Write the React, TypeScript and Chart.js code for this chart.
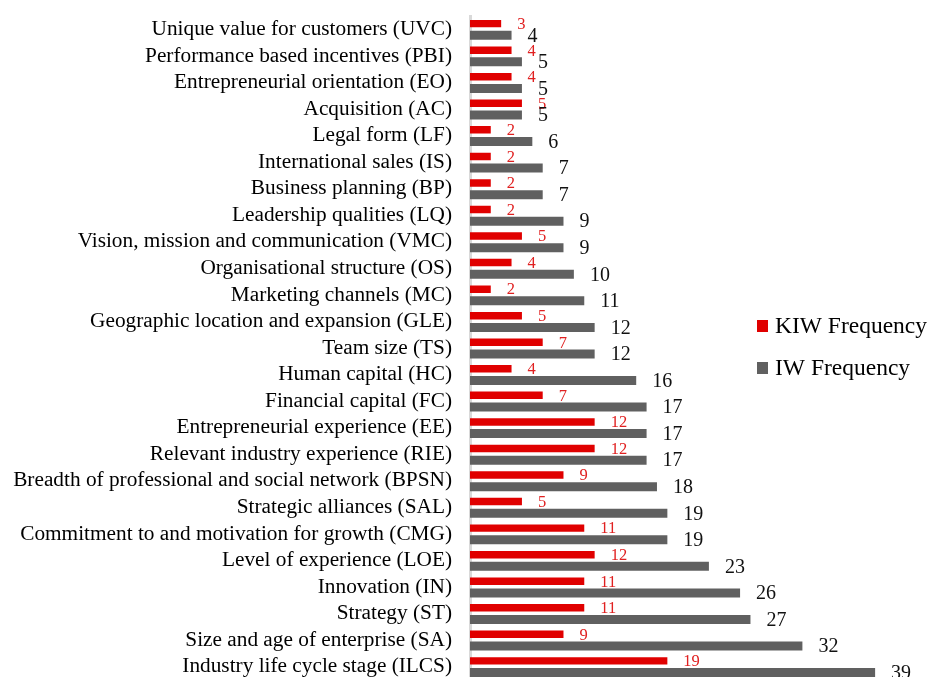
import React, { useEffect, useRef } from "react";
import { Chart, registerables } from "chart.js";

Chart.register(...registerables);

const categories = [
  "Unique value for customers (UVC)",
  "Performance based incentives (PBI)",
  "Entrepreneurial orientation (EO)",
  "Acquisition (AC)",
  "Legal form (LF)",
  "International sales (IS)",
  "Business planning (BP)",
  "Leadership qualities (LQ)",
  "Vision, mission and communication (VMC)",
  "Organisational structure (OS)",
  "Marketing channels (MC)",
  "Geographic location and expansion (GLE)",
  "Team size (TS)",
  "Human capital (HC)",
  "Financial capital (FC)",
  "Entrepreneurial experience (EE)",
  "Relevant industry experience (RIE)",
  "Breadth of professional and social network (BPSN)",
  "Strategic alliances (SAL)",
  "Commitment to and motivation for growth (CMG)",
  "Level of experience (LOE)",
  "Innovation (IN)",
  "Strategy (ST)",
  "Size and age of enterprise (SA)",
  "Industry life cycle stage (ILCS)",
];

const kiwFrequency = [3, 4, 4, 5, 2, 2, 2, 2, 5, 4, 2, 5, 7, 4, 7, 12, 12, 9, 5, 11, 12, 11, 11, 9, 19];
const iwFrequency = [4, 5, 5, 5, 6, 7, 7, 9, 9, 10, 11, 12, 12, 16, 17, 17, 17, 18, 19, 19, 23, 26, 27, 32, 39];

const seriesNames = ["KIW Frequency", "IW Frequency"];

const SERIF = "'Liberation Serif', 'Times New Roman', serif";

const labelPlugin = {
  id: "valueLabels",
  afterDatasetsDraw(chart: any) {
    const ctx = chart.ctx;
    ctx.save();
    chart.data.datasets.forEach((ds: any, di: number) => {
      const meta = chart.getDatasetMeta(di);
      ctx.font = di === 0 ? `16.5px ${SERIF}` : `20px ${SERIF}`;
      ctx.fillStyle = di === 0 ? "#e02020" : "#111111";
      ctx.textAlign = "left";
      ctx.textBaseline = "middle";
      meta.data.forEach((el: any, i: number) => {
        ctx.fillText(String(ds.data[i]), el.x + 16, el.y + 1);
      });
    });
    ctx.restore();
  },
};

const legendPlugin = {
  id: "customLegend",
  afterDraw(chart: any) {
    const ctx = chart.ctx;
    ctx.save();
    const items = [
      { text: seriesNames[0], color: "#e00000", y: 326 },
      { text: seriesNames[1], color: "#606060", y: 368 },
    ];
    items.forEach((it) => {
      ctx.fillStyle = it.color;
      ctx.fillRect(757, it.y - 6, 11, 12);
      ctx.fillStyle = "#000";
      ctx.font = `23.5px ${SERIF}`;
      ctx.textAlign = "left";
      ctx.textBaseline = "middle";
      ctx.fillText(it.text, 775, it.y + 1);
    });
    ctx.restore();
  },
};

export default function App() {
  const ref = useRef<HTMLCanvasElement>(null);
  useEffect(() => {
    document.body.style.margin = "0";
    document.body.style.overflow = "hidden";
    document.documentElement.style.overflow = "hidden";
    const chart = new Chart(ref.current!, {
      type: "bar",
      data: {
        labels: categories,
        datasets: [
          {
            label: seriesNames[0],
            data: kiwFrequency,
            backgroundColor: "#e00000",
            barPercentage: 0.64,
          },
          {
            label: seriesNames[1],
            data: iwFrequency,
            backgroundColor: "#606060",
            barPercentage: 0.77,
          },
        ],
      },
      options: {
        indexAxis: "y",
        animation: false,
        responsive: false,
        maintainAspectRatio: false,
        layout: { padding: { top: 16.2, right: 44.5, bottom: 0, left: 0 } },
        datasets: { bar: { categoryPercentage: 0.88 } },
        plugins: { legend: { display: false }, tooltip: { enabled: false } },
        scales: {
          x: { display: false, min: 0, max: 40 },
          y: {
            grid: { display: false, drawTicks: false },
            border: { display: true, color: "#d9d9d9", width: 3 },
            ticks: {
              color: "#000",
              font: { family: SERIF, size: 21.3 },
              padding: 18,
              autoSkip: false,
            },
            afterFit(scale: any) {
              scale.width = 470;
              scale.paddingTop = 0;
              scale.paddingBottom = 0;
            },
          },
        },
      },
      plugins: [labelPlugin, legendPlugin],
    });
    return () => chart.destroy();
  }, []);
  return (
    <div style={{ position: "absolute", left: 0, top: 0 }}>
      <canvas ref={ref} width={930} height={680} style={{ display: "block" }} />
    </div>
  );
}
